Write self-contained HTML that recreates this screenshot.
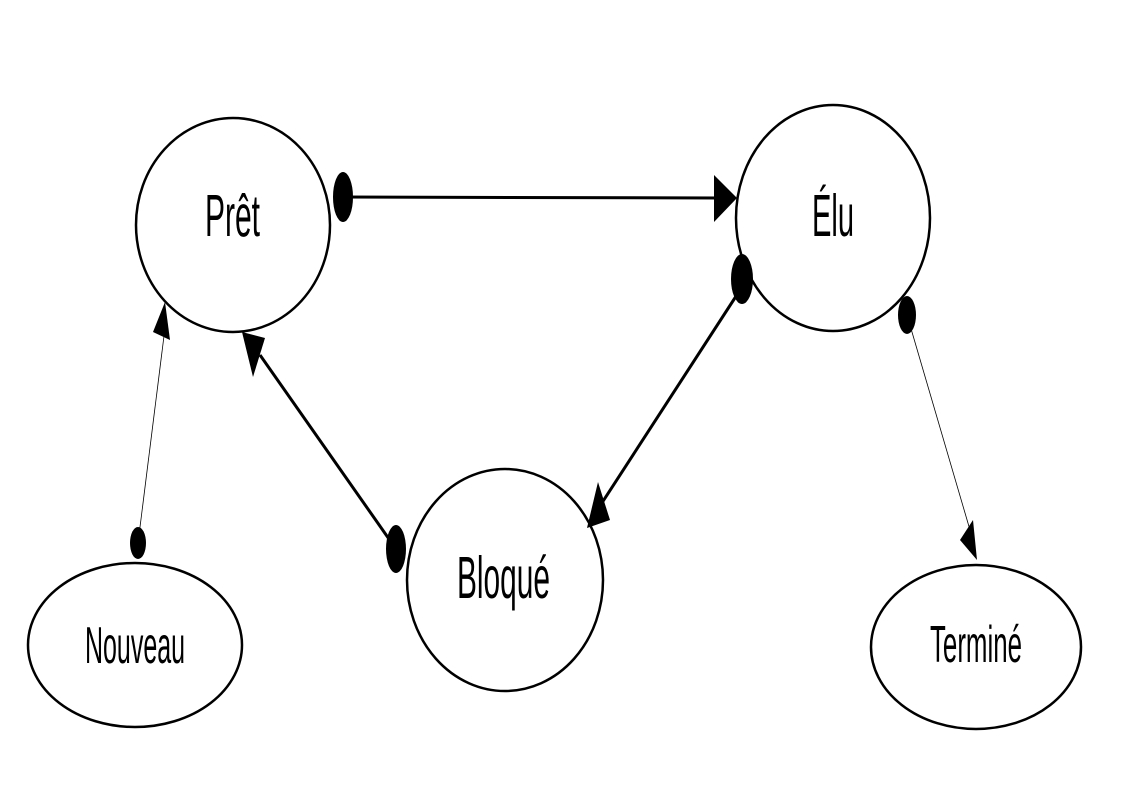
<!DOCTYPE html>
<html><head><meta charset="utf-8"><style>html,body{margin:0;background:#fff}svg{display:block}text{font-family:"Liberation Sans Narrow","Liberation Sans",sans-serif;fill:#000}</style></head>
<body>
<svg width="1123" height="794" viewBox="0 0 1123 794" xmlns="http://www.w3.org/2000/svg">
<g fill="none" stroke="#000" stroke-width="2.5">
<ellipse cx="233" cy="225" rx="97" ry="107"/>
<ellipse cx="833" cy="218" rx="97" ry="113"/>
<ellipse cx="505" cy="580" rx="98" ry="111"/>
<ellipse cx="135" cy="645" rx="107" ry="82"/>
<ellipse cx="976" cy="647" rx="105" ry="82"/>
</g>
<g stroke="#000" fill="none">
<line x1="343" y1="197" x2="720" y2="198" stroke-width="3"/>
<line x1="742" y1="287" x2="596" y2="512" stroke-width="3"/>
<line x1="396" y1="549" x2="260" y2="355" stroke-width="3"/>
<line x1="138" y1="543" x2="166" y2="320" stroke-width="0.8"/>
<line x1="907" y1="315" x2="970" y2="530" stroke-width="0.8"/>
</g>
<g fill="#000">
<polygon points="714,175 737,198 714,222"/>
<polygon points="598,482 610,520 587,528"/>
<polygon points="973,520 977,560 960,540"/>
<polygon points="242,332 265,338 253,377"/>
<polygon points="165,302 170,340 153,332"/>
<ellipse cx="343" cy="197" rx="10" ry="25"/>
<ellipse cx="742" cy="279" rx="11" ry="25"/>
<ellipse cx="907" cy="315" rx="9" ry="19"/>
<ellipse cx="396" cy="549" rx="10" ry="24"/>
<ellipse cx="138" cy="543" rx="8" ry="16"/>
</g>
<text x="205" y="236" font-size="59" textLength="55" lengthAdjust="spacingAndGlyphs">Prêt</text>
<text x="812" y="236" font-size="59" textLength="42" lengthAdjust="spacingAndGlyphs">Élu</text>
<text x="457" y="598" font-size="59" textLength="93" lengthAdjust="spacingAndGlyphs">Bloqué</text>
<text x="85" y="663" font-size="52" textLength="100" lengthAdjust="spacingAndGlyphs">Nouveau</text>
<text x="930" y="662" font-size="52" textLength="92" lengthAdjust="spacingAndGlyphs">Terminé</text>
</svg>
</body></html>
